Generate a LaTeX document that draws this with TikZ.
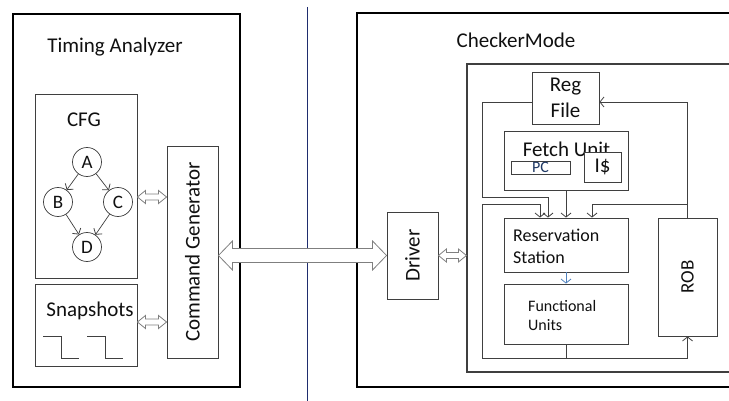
\documentclass[tikz,border=0pt]{standalone}
\usepackage{fontspec}
\setmainfont{Carlito}
\usetikzlibrary{arrows.meta,calc}
\definecolor{edgegray}{HTML}{3F3F3F}
\definecolor{wiregray}{HTML}{404040}
\definecolor{hollowgray}{HTML}{7F7F7F}
\definecolor{divider}{HTML}{1F2D6E}
\definecolor{txt}{HTML}{101010}
\definecolor{pcblue}{HTML}{1F3864}
\definecolor{flowblue}{HTML}{4F81BD}

% hollow two-headed arrow between two points (horizontal, at the y of the first)
% #3 shaft half-width, #4 head half-width, #5 head length
\newcommand{\hollowdbl}[5]{%
  \filldraw[hollow] let \p1=(#1), \p2=(#2) in
    (\x1,\y1) -- (\x1+#5,\y1+#4) -- (\x1+#5,\y1+#3) -- (\x2-#5,\y1+#3)
    -- (\x2-#5,\y1+#4) -- (\x2,\y1) -- (\x2-#5,\y1-#4) -- (\x2-#5,\y1-#3)
    -- (\x1+#5,\y1-#3) -- (\x1+#5,\y1-#4) -- cycle;}

\begin{document}
\begin{tikzpicture}[x=1pt,y=-1pt,
  outerbox/.style={draw=black, line width=1.6pt, rectangle, inner sep=0pt},
  box/.style={draw=edgegray, line width=0.9pt, rectangle, inner sep=0pt, fill=white},
  lbl/.style={font=\fontsize{21}{25}\selectfont, text=txt, inner sep=0pt},
  midlbl/.style={font=\fontsize{18}{21}\selectfont, text=txt, inner sep=0pt, align=left},
  cfgnode/.style={circle, draw=edgegray, line width=0.7pt, minimum size=29pt, inner sep=0pt,
                  font=\fontsize{19}{21}\selectfont, text=txt},
  hollow/.style={draw=hollowgray, fill=white, line width=0.8pt, line join=miter},
  wire/.style={draw=wiregray, line width=0.8pt},
  tip/.style={-{Straight Barb[length=4pt,width=10pt,line width=0.8pt]}}
]
\useasboundingbox (0,0) rectangle (729,401);
\clip (0,0) rectangle (729,401);

% ---------------- Timing Analyzer side ----------------
\node[outerbox, minimum width=227pt, minimum height=373pt] (ta) at (126.5,200.5) {};
\node[lbl] (tatitle) at (115,47) {Timing Analyzer};

\node[box, minimum width=102pt, minimum height=184pt] (cfg) at (86,186) {};
\node[lbl] (cfgtitle) at (84,120) {CFG};
\node[cfgnode] (A) at (87,162) {A};
\node[cfgnode] (B) at (58,202) {B};
\node[cfgnode] (C) at (118,202) {C};
\node[cfgnode] (D) at (87,247) {D};
\draw[wire, line width=0.7pt, tip] (A) -- (B);
\draw[wire, line width=0.7pt, tip] (A) -- (C);
\draw[wire, line width=0.7pt, tip] (B) -- (D);
\draw[wire, line width=0.7pt, tip] (C) -- (D);

\node[box, minimum width=102pt, minimum height=82pt] (snap) at (86,325) {};
\node[lbl] (snaptitle) at (90,311) {Snapshots};
\draw[wire, line width=0.9pt] (43,336) -- (61,336) -- (61,358) -- (79,358);
\draw[wire, line width=0.9pt] (87,336) -- (105,336) -- (105,358) -- (123,358);

\node[box, minimum width=51pt, minimum height=212pt] (cg) at (192.5,252) {};
\node[lbl, rotate=90] (cgtext) at (cg.center) {Command Generator};

% divider
\coordinate (divtop) at (307,7);
\coordinate (divbot) at (307,401);
\draw[divider, line width=0.8pt] (divtop) -- (divbot);

% ---------------- CheckerMode side ----------------
\node[outerbox, minimum width=383pt, minimum height=374pt] (cm) at (548.5,200) {};
\node[lbl] (cmtitle) at (516,40) {CheckerMode};

\node[draw=edgegray, line width=1.1pt, rectangle, inner sep=0pt,
      minimum width=273pt, minimum height=308pt] (inner) at (603.5,218) {};

\node[box, minimum width=51pt, minimum height=87pt] (drv) at (412.5,255.5) {};
\node[lbl, rotate=90] (drvtext) at (drv.center) {Driver};

\node[box, minimum width=67pt, minimum height=52pt, lbl, align=center] (reg) at (565.5,98)
  {Reg\\[1pt]File};

\node[box, minimum width=124pt, minimum height=59pt] (fetch) at (566,160.5) {};
\node[lbl] (fetchtext) at (566.5,149) {Fetch Unit};
\node[box, minimum width=59pt, minimum height=13pt, font=\fontsize{16}{16}\selectfont,
      text=pcblue] (pc) at (540.5,167.5) {PC};
\node[box, minimum width=37pt, minimum height=30pt, font=\fontsize{21}{21}\selectfont,
      text=txt] (icache) at (602.5,167) {I\$};

\node[box, minimum width=124pt, minimum height=54pt] (rs) at (566,245) {};
\node[midlbl, anchor=west] (rstext) at (513,246) {Reservation\\[1pt]Station};

\node[box, minimum width=124pt, minimum height=60pt] (fu) at (566,314) {};
\node[midlbl, font=\fontsize{16}{19}\selectfont, anchor=west] (futext) at (528,316)
  {Functional\\Units};

\node[box, minimum width=59pt, minimum height=118pt] (rob) at (687.5,277) {};
\node[midlbl, font=\fontsize{19}{21}\selectfont, rotate=90] (robtext) at (rob.center) {ROB};

% ---------------- wires ----------------
% register file feeds the reservation station
\draw[wire, tip] ([yshift=-4pt]reg.west) -| (482,197) -| ([xshift=-18pt]rs.north);
% fetch unit to reservation station
\draw[wire, tip] (fetch.south) -- (rs.north);
% result bus from the functional units
\coordinate (busmid) at (fu.south |- 0,358);
\draw[wire] (fu.south) -- (busmid);
\draw[wire, tip] (busmid) -| (rob.south);
\draw[wire, tip] (busmid) -| (482,204) -| ([xshift=-26pt]rs.north);
% reorder buffer commits to the register file and forwards to the station
\draw[wire, tip] (rob.north) |- ([yshift=-4pt]reg.east);
\draw[wire, tip] (rob.north |- 0,204) -| ([xshift=26pt]rs.north);
% issue to the functional units
\draw[flowblue, line width=0.8pt, tip] (rs.south) -- (fu.north);

% ---------------- hollow interface arrows ----------------
\coordinate (cfgport) at ([yshift=-11pt]cfg.east);
\coordinate (cgport1) at (cg.west |- cfgport);
\coordinate (snapport) at ([yshift=3pt]snap.east);
\coordinate (cgport2) at (cg.west |- snapport);
\coordinate (cgport3) at (cg.east |- drv.west);
\coordinate (innerport) at (inner.west |- drv.east);
\hollowdbl{cfgport}{cgport1}{3pt}{6.5pt}{8pt}
\hollowdbl{snapport}{cgport2}{3pt}{6.5pt}{8pt}
\hollowdbl{cgport3}{drv.west}{7pt}{14.5pt}{14pt}
\hollowdbl{drv.east}{innerport}{3pt}{6.5pt}{8pt}
\end{tikzpicture}
\end{document}
